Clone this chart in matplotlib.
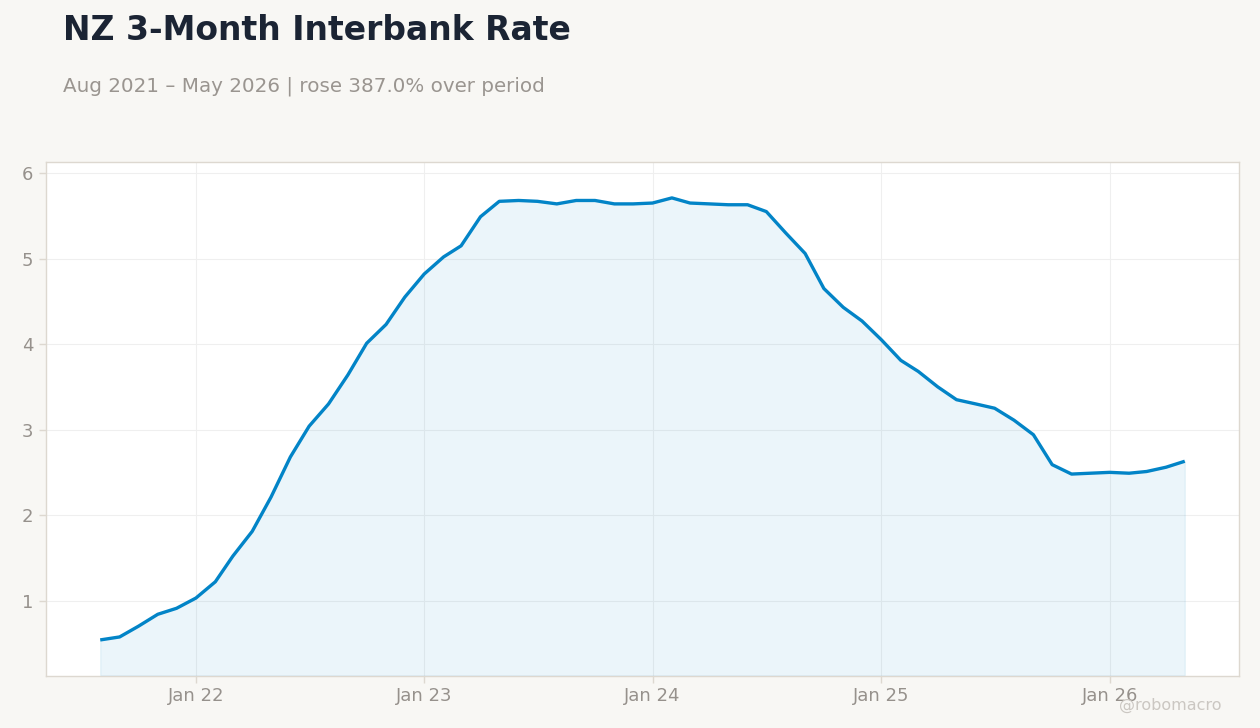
import matplotlib
matplotlib.use("Agg")
import matplotlib.pyplot as plt
import pandas as pd

# ---- data ----
start_month = "2021-08-01"
rates = [
    0.54, 0.575, 0.70, 0.84, 0.91,                              # Aug-Dec 2021
    1.03, 1.22, 1.52, 1.81, 2.21, 2.68, 3.04, 3.30, 3.64, 4.01, 4.23, 4.55,  # 2022
    4.82, 5.02, 5.15, 5.49, 5.67, 5.68, 5.67, 5.64, 5.68, 5.68, 5.64, 5.64,  # 2023
    5.65, 5.71, 5.65, 5.64, 5.63, 5.63, 5.55, 5.30, 5.06, 4.65, 4.43, 4.27,  # 2024
    4.05, 3.81, 3.68, 3.50, 3.35, 3.30, 3.25, 3.11, 2.94, 2.59, 2.48, 2.49,  # 2025
    2.50, 2.49, 2.51, 2.56, 2.63,                               # Jan-May 2026
]
dates = pd.date_range(start_month, periods=len(rates), freq="MS")
y_ticks = [1, 2, 3, 4, 5, 6]
x_tick_years = [2022, 2023, 2024, 2025, 2026]

title = "NZ 3-Month Interbank Rate"
pct = (rates[-1] / rates[0] - 1) * 100
subtitle = (f"{dates[0]:%b %Y} \u2013 {dates[-1]:%b %Y} | "
            f"rose {pct:.1f}% over period")

# ---- style ----
BG = "#f8f7f4"
LINE = "#0284c7"
TICK = "#96918c"
SPINE = "#ddd8d0"
GRID = "#efefef"

fig = plt.figure(figsize=(12.6, 7.28), dpi=100, facecolor=BG)
ax = fig.add_axes([46 / 1260, 1 - 675.5 / 728, (1239 - 46) / 1260, (675.5 - 162) / 728])
ax.set_facecolor("white")

ymin, ymax = 0.124, 6.13
ax.fill_between(dates, rates, ymin, color=LINE, alpha=0.08, linewidth=1,
                edgecolor=(0.0, 0.52, 0.78, 0.10), zorder=1)
ax.plot(dates, rates, color=LINE, linewidth=2.4, solid_joinstyle="round",
        solid_capstyle="butt", zorder=3)

ax.set_ylim(ymin, ymax)
span = dates[-1] - dates[0]
ax.set_xlim(dates[0] - span * 0.05, dates[-1] + span * 0.05)

ax.set_yticks(y_ticks)
ax.set_yticklabels([str(v) for v in y_ticks])
ax.set_xticks([pd.Timestamp(f"{y}-01-01") for y in x_tick_years])
ax.set_xticklabels([f"Jan {y % 100:02d}" for y in x_tick_years])

ax.grid(True, color=GRID, linewidth=0.8, zorder=0)
ax.set_axisbelow(True)
for s in ax.spines.values():
    s.set_color(SPINE)
    s.set_linewidth(1.0)
ax.tick_params(axis="both", colors=SPINE, labelcolor=TICK, labelsize=13,
               length=5, width=1)
ax.tick_params(axis="y", pad=4)
ax.tick_params(axis="x", pad=3)

fig.text(63 / 1260, 1 - 30 / 728, title, fontsize=23.8, fontweight="bold",
         color="#1b2434", va="center", ha="left")
fig.text(63 / 1260, 1 - 86 / 728, subtitle, fontsize=14.35, color="#9a9590",
         va="center", ha="left")
fig.text(1222 / 1260, 1 - 705 / 728, "@robomacro", fontsize=11.5,
         color="#cbc7c2", va="center", ha="right")

fig.savefig("out.png", dpi=100, facecolor=BG)
